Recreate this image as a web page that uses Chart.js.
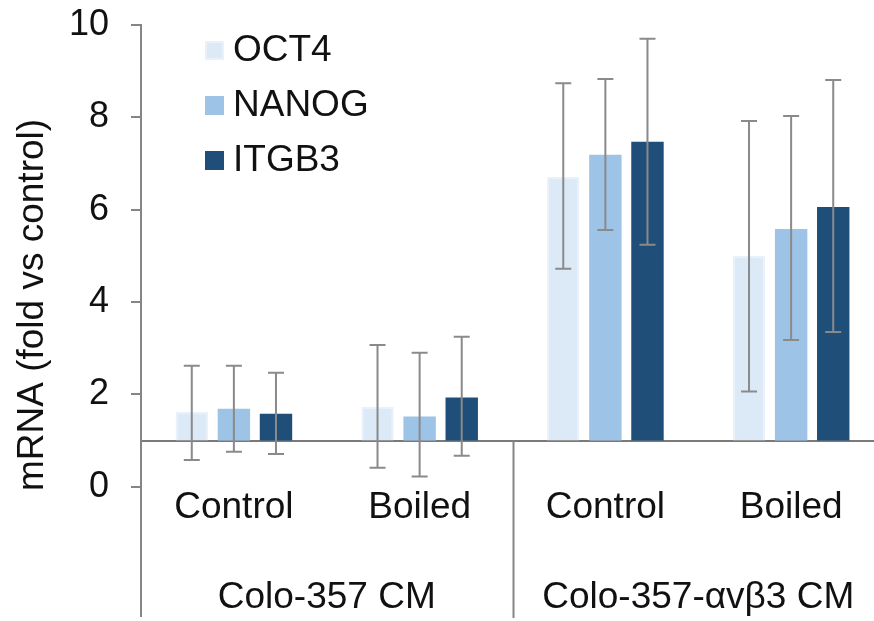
<!DOCTYPE html>
<html>
<head>
<meta charset="utf-8">
<script src="https://cdn.jsdelivr.net/npm/chart.js@4.4.1/dist/chart.umd.min.js"></script>
<style>
html, body { margin: 0; padding: 0; overflow: hidden; background: #fff; }
#wrap { width: 890px; height: 621px; }
</style>
</head>
<body>
<div id="wrap"><canvas id="chart"></canvas></div>
<script>
// data
const categories = ['Control', 'Boiled', 'Control', 'Boiled'];
const groups = ['Colo-357 CM', 'Colo-357-\u03b1v\u03b23 CM'];
const seriesNames = ['OCT4', 'NANOG', 'ITGB3'];
const baseline = 1;
const oct4 = [1.62, 1.73, 6.71, 5.00];
const nanog = [1.69, 1.52, 7.19, 5.58];
const itgb3 = [1.58, 1.93, 7.47, 6.06];
const oct4High = [2.62, 3.07, 8.74, 7.92];
const oct4Low = [0.58, 0.41, 4.72, 2.06];
const nanogHigh = [2.62, 2.90, 8.83, 8.03];
const nanogLow = [0.76, 0.22, 5.56, 3.18];
const itgb3High = [2.47, 3.25, 9.70, 8.81];
const itgb3Low = [0.71, 0.67, 5.24, 3.35];
const yTicks = [0, 2, 4, 6, 8, 10];

const fontFamily = "'Liberation Sans', Arial, sans-serif";
const textColor = '#111';
const axisColor = '#858585';

function makeSet(label, values, high, low, fill, border){
    return {
        label: label,
        data: values.map(v => [baseline, v]),
        errHigh: high,
        errLow: low,
        backgroundColor: fill,
        borderColor: border,
        borderWidth: border ? 2 : 0,
        categoryPercentage: 0.68,
        barPercentage: 0.77
    };
}

// error bars on top of the bars
const errorBars = {
    id: 'errorBars',
    afterDatasetsDraw(chart){
        const ctx = chart.ctx;
        const y = chart.scales.y;
        ctx.save();
        ctx.strokeStyle = '#8a8a8a';
        ctx.lineWidth = 2;
        chart.data.datasets.forEach((ds, di) => {
            chart.getDatasetMeta(di).data.forEach((bar, i) => {
                const top = y.getPixelForValue(ds.errHigh[i]);
                const bot = y.getPixelForValue(ds.errLow[i]);
                ctx.beginPath();
                ctx.moveTo(bar.x, top); ctx.lineTo(bar.x, bot);
                ctx.moveTo(bar.x - 8, top); ctx.lineTo(bar.x + 8, top);
                ctx.moveTo(bar.x - 8, bot); ctx.lineTo(bar.x + 8, bot);
                ctx.stroke();
            });
        });
        ctx.restore();
    }
};

// legend, y title, group labels and divider
const decorations = {
    id: 'decorations',
    afterDraw(chart){
        const ctx = chart.ctx;
        const x = chart.scales.x;
        const y = chart.scales.y;
        const area = chart.chartArea;
        ctx.save();
        ctx.font = '37px ' + fontFamily;
        ctx.fillStyle = textColor;
        ctx.textBaseline = 'middle';

        // legend
        chart.data.datasets.forEach((ds, i) => {
            const cy = area.top + 25 + i * 55;
            const bx = area.left + 64;
            ctx.fillStyle = ds.backgroundColor;
            ctx.fillRect(bx, cy - 9, 19, 19);
            if (ds.borderColor) {
                ctx.strokeStyle = ds.borderColor;
                ctx.lineWidth = 2;
                ctx.strokeRect(bx + 1, cy - 8, 17, 17);
            }
            ctx.fillStyle = textColor;
            ctx.textAlign = 'left';
            ctx.fillText(ds.label, bx + 28, cy + 1);
        });

        // y axis title
        ctx.save();
        ctx.translate(33, 305);
        ctx.rotate(-Math.PI / 2);
        ctx.textAlign = 'center';
        ctx.fillText('mRNA (fold vs control)', 0, 0);
        ctx.restore();

        // group labels
        ctx.textAlign = 'center';
        groups.forEach((g, gi) => {
            const cx = (x.getPixelForValue(gi * 2) + x.getPixelForValue(gi * 2 + 1)) / 2;
            ctx.fillText(g, cx, 598);
        });

        // divider between groups
        const dx = Math.round((x.getPixelForValue(1) + x.getPixelForValue(2)) / 2) + 0.5;
        ctx.strokeStyle = axisColor;
        ctx.lineWidth = 2;
        ctx.beginPath();
        ctx.moveTo(dx, y.getPixelForValue(baseline));
        ctx.lineTo(dx, area.bottom + 2);
        ctx.stroke();
        ctx.restore();
    }
};

const ctx = document.getElementById('chart');
new Chart(ctx, {
    type: 'bar',
    data: {
        labels: categories,
        datasets: [
            makeSet(seriesNames[0], oct4, oct4High, oct4Low, '#dce9f6', '#e9f2fb'),
            makeSet(seriesNames[1], nanog, nanogHigh, nanogLow, '#9dc3e6', null),
            makeSet(seriesNames[2], itgb3, itgb3High, itgb3Low, '#1f4e79', null)
        ]
    },
    options: {
        animation: false,
        responsive: true,
        maintainAspectRatio: false,
        layout: { padding: { top: 25, bottom: 5, left: 0, right: 6 } },
        plugins: {
            legend: { display: false },
            tooltip: { enabled: false }
        },
        scales: {
            x: {
                position: { y: baseline },
                grid: { display: false, drawTicks: false },
                border: { color: '#7a7a7a', width: 2 },
                ticks: {
                    color: textColor,
                    padding: 45,
                    font: { family: fontFamily, size: 37 }
                }
            },
            y: {
                min: -2.8,
                max: 10,
                afterBuildTicks: s => { s.ticks = yTicks.map(v => ({ value: v })); },
                afterFit: s => { s.width = 141; s.paddingTop = 0; s.paddingBottom = 0; },
                ticks: {
                    color: textColor,
                    padding: 22,
                    font: { family: fontFamily, size: 36 }
                },
                grid: { drawOnChartArea: false, tickLength: 10, color: axisColor, lineWidth: 2 },
                border: { color: axisColor, width: 2 }
            }
        }
    },
    plugins: [errorBars, decorations]
});
</script>
</body>
</html>
